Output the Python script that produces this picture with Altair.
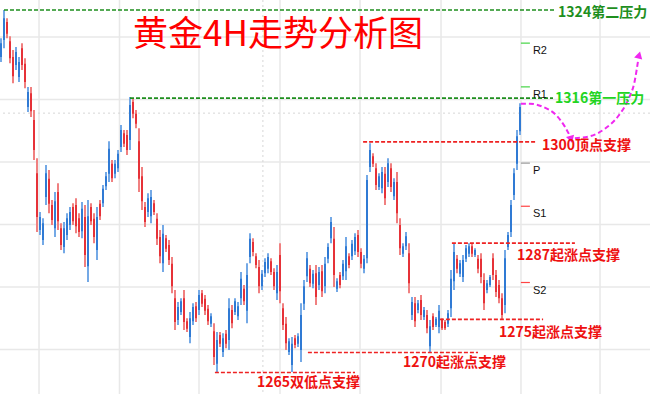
import altair as alt
import pandas as pd

# ---------------- candle data (4H gold) ----------------
opens = [
    1316.8, 1319.5, 1322.4, 1319.3, 1316.8, 1315.5, 1313.6, 1318.2, 1315.7, 1308.8,
    1311.0, 1306.7, 1298.2, 1289.1, 1287.5, 1294.4, 1297.3, 1293.1, 1289.4, 1295.2,
    1289.4, 1286.4, 1288.3, 1289.9, 1292.8, 1293.1, 1291.0, 1288.9, 1291.2, 1283.3,
    1292.8, 1290.9, 1285.9, 1293.3, 1293.4, 1296.1, 1298.1, 1299.7, 1298.1, 1299.0,
    1302.4, 1304.6, 1304.3, 1303.5, 1309.6, 1307.7, 1303.3, 1297.7, 1292.8, 1292.0,
    1291.3, 1293.4, 1290.9, 1288.0, 1283.8, 1287.8, 1286.7, 1283.7, 1278.2, 1274.7,
    1276.0, 1278.2, 1274.5, 1272.0, 1274.5, 1276.9, 1276.3, 1279.0, 1278.1, 1276.5,
    1274.1, 1272.9, 1267.7, 1272.3, 1269.6, 1272.5, 1271.5, 1276.3, 1276.0, 1275.3,
    1278.2, 1279.7, 1276.2, 1284.8, 1287.2, 1284.9, 1283.2, 1280.1, 1282.2, 1282.9,
    1284.1, 1282.4, 1279.0, 1285.1, 1276.6, 1274.1, 1269.6, 1267.5, 1271.8, 1270.9,
    1269.9, 1277.3, 1281.7, 1282.9, 1280.5, 1282.2, 1280.3, 1282.5, 1280.1, 1284.5,
    1287.8, 1287.7, 1279.7, 1281.9, 1281.7, 1282.5, 1284.9, 1284.9, 1285.7, 1288.3,
    1285.6, 1282.9, 1284.6, 1299.2, 1300.9, 1299.0, 1296.0, 1295.8, 1298.1, 1296.8,
    1299.0, 1294.5, 1296.8, 1289.9, 1285.3, 1286.5, 1285.4, 1275.5, 1277.4, 1276.3,
    1277.9, 1275.2, 1275.5, 1270.5, 1275.3, 1273.9, 1273.6, 1274.7, 1274.4, 1274.1,
    1276.6, 1280.9, 1284.5, 1282.1, 1281.6, 1284.5, 1285.3, 1286.5, 1285.1, 1284.5,
    1284.5, 1281.1, 1279.5, 1280.3, 1284.6, 1281.9, 1280.3, 1278.2, 1277.1, 1286.4,
    1288.8, 1294.7, 1299.7, 1304.9,
]
highs = [
    1319.8, 1324.3, 1323.0, 1320.1, 1317.9, 1318.4, 1316.8, 1319.0, 1316.6, 1312.0,
    1312.0, 1308.3, 1300.6, 1292.0, 1291.0, 1299.5, 1298.7, 1293.9, 1295.2, 1296.6,
    1290.2, 1290.4, 1291.8, 1292.8, 1293.4, 1294.2, 1291.8, 1293.6, 1293.1, 1293.9,
    1293.4, 1291.8, 1292.8, 1293.9, 1296.3, 1298.4, 1303.3, 1300.3, 1300.3, 1301.9,
    1305.9, 1305.1, 1305.1, 1310.4, 1310.2, 1308.3, 1305.4, 1299.2, 1293.6, 1295.0,
    1295.5, 1293.9, 1291.8, 1289.1, 1289.9, 1288.3, 1287.5, 1284.8, 1279.5, 1277.6,
    1278.2, 1279.5, 1275.0, 1276.0, 1277.4, 1277.6, 1279.5, 1279.5, 1278.7, 1277.1,
    1275.8, 1274.2, 1272.8, 1272.8, 1272.6, 1273.1, 1278.2, 1277.1, 1278.2, 1277.6,
    1282.4, 1280.3, 1283.8, 1288.6, 1287.8, 1285.4, 1284.3, 1282.7, 1284.6, 1285.4,
    1284.6, 1283.0, 1283.5, 1287.0, 1277.4, 1275.2, 1271.8, 1272.0, 1272.3, 1272.6,
    1277.4, 1281.1, 1285.6, 1283.5, 1282.7, 1283.5, 1283.2, 1283.5, 1284.8, 1287.0,
    1291.2, 1289.6, 1281.4, 1282.4, 1284.3, 1288.0, 1285.4, 1287.5, 1288.6, 1289.1,
    1286.2, 1285.1, 1297.9, 1303.0, 1301.4, 1299.8, 1298.2, 1299.2, 1299.2, 1300.6,
    1299.8, 1297.4, 1298.4, 1291.0, 1287.0, 1288.8, 1287.0, 1278.4, 1278.4, 1277.9,
    1278.7, 1276.8, 1276.3, 1274.7, 1275.8, 1275.2, 1277.1, 1275.0, 1274.7, 1276.3,
    1282.7, 1287.0, 1285.1, 1284.3, 1285.1, 1286.7, 1287.0, 1287.0, 1286.2, 1285.1,
    1285.4, 1282.2, 1281.1, 1281.9, 1285.4, 1282.7, 1281.1, 1279.0, 1285.9, 1288.8,
    1293.9, 1299.0, 1305.1, 1309.4,
]
lows = [
    1316.0, 1318.2, 1319.8, 1315.8, 1312.6, 1314.7, 1312.8, 1314.7, 1311.8, 1308.0,
    1307.2, 1300.3, 1288.8, 1288.3, 1286.7, 1293.1, 1291.8, 1289.9, 1288.0, 1289.1,
    1285.9, 1285.4, 1287.5, 1289.1, 1289.9, 1288.6, 1288.0, 1287.8, 1283.2, 1280.8,
    1289.9, 1287.0, 1284.3, 1290.7, 1292.8, 1295.5, 1296.8, 1296.8, 1297.4, 1298.4,
    1301.6, 1302.4, 1301.1, 1301.9, 1307.0, 1305.4, 1295.2, 1292.3, 1289.6, 1291.2,
    1290.2, 1291.5, 1286.7, 1283.8, 1282.4, 1285.6, 1283.5, 1279.0, 1273.1, 1273.9,
    1275.5, 1273.1, 1272.8, 1271.0, 1273.9, 1274.4, 1275.5, 1276.8, 1275.5, 1273.9,
    1273.6, 1267.5, 1266.4, 1270.4, 1268.8, 1270.2, 1269.9, 1273.4, 1275.5, 1274.7,
    1277.1, 1277.1, 1274.2, 1283.8, 1284.9, 1283.0, 1279.0, 1279.5, 1281.6, 1282.2,
    1281.9, 1279.5, 1277.9, 1277.4, 1273.1, 1269.9, 1269.1, 1266.4, 1270.2, 1270.4,
    1268.0, 1276.3, 1280.8, 1280.0, 1279.8, 1277.1, 1279.5, 1278.4, 1279.0, 1283.8,
    1287.0, 1280.0, 1279.2, 1279.8, 1281.1, 1281.1, 1283.0, 1284.3, 1285.1, 1284.8,
    1283.0, 1282.2, 1283.8, 1298.4, 1299.2, 1295.5, 1295.5, 1295.0, 1293.1, 1296.0,
    1295.2, 1293.9, 1290.2, 1285.1, 1284.8, 1285.9, 1279.0, 1274.7, 1273.6, 1275.8,
    1274.7, 1274.7, 1272.6, 1269.6, 1273.1, 1273.6, 1272.6, 1273.1, 1273.1, 1273.6,
    1275.2, 1279.5, 1282.2, 1281.6, 1280.8, 1284.0, 1284.8, 1284.8, 1284.8, 1282.2,
    1280.6, 1276.3, 1279.0, 1280.0, 1281.1, 1278.4, 1277.4, 1274.7, 1275.8, 1285.9,
    1288.0, 1293.9, 1298.7, 1304.3,
]
closes = [
    1319.0, 1323.0, 1320.5, 1316.6, 1313.7, 1317.6, 1316.0, 1315.5, 1312.8, 1311.2,
    1308.1, 1301.9, 1291.2, 1291.2, 1290.2, 1298.2, 1293.3, 1290.7, 1293.7, 1290.5,
    1286.7, 1289.4, 1291.0, 1292.0, 1290.5, 1289.7, 1288.8, 1292.5, 1285.1, 1291.3,
    1290.5, 1288.0, 1291.2, 1291.3, 1295.7, 1297.7, 1302.1, 1297.4, 1299.7, 1301.3,
    1305.1, 1302.9, 1301.9, 1309.1, 1307.7, 1306.1, 1297.3, 1293.7, 1290.4, 1294.2,
    1294.4, 1292.0, 1287.7, 1284.9, 1288.5, 1286.1, 1284.3, 1280.1, 1274.4, 1276.8,
    1277.7, 1274.4, 1273.3, 1275.0, 1276.8, 1275.0, 1278.7, 1277.3, 1276.2, 1274.5,
    1275.3, 1268.8, 1271.5, 1270.9, 1271.8, 1270.9, 1276.6, 1274.2, 1277.7, 1276.9,
    1281.3, 1277.7, 1281.9, 1287.7, 1285.6, 1283.5, 1280.1, 1282.1, 1284.0, 1284.8,
    1282.4, 1280.1, 1282.4, 1279.3, 1273.9, 1271.0, 1271.3, 1270.9, 1270.7, 1272.1,
    1275.5, 1280.1, 1284.6, 1280.6, 1282.1, 1278.4, 1282.4, 1279.3, 1283.7, 1286.4,
    1290.4, 1281.9, 1280.9, 1280.3, 1283.7, 1286.5, 1283.5, 1286.9, 1288.0, 1285.6,
    1283.7, 1284.5, 1297.1, 1301.9, 1299.7, 1296.3, 1297.7, 1298.4, 1294.2, 1299.8,
    1296.0, 1296.8, 1291.8, 1286.2, 1286.5, 1288.1, 1280.6, 1277.6, 1274.5, 1277.4,
    1275.5, 1276.3, 1273.4, 1273.7, 1273.6, 1274.9, 1276.2, 1273.4, 1273.4, 1275.8,
    1281.3, 1285.6, 1282.9, 1283.8, 1284.3, 1286.2, 1286.5, 1285.3, 1285.9, 1282.9,
    1281.6, 1277.4, 1280.6, 1281.6, 1281.9, 1279.2, 1278.2, 1275.5, 1284.6, 1288.3,
    1293.1, 1298.2, 1304.1, 1308.8,
]

# grid (price levels and time ticks)
grid_prices = [1270, 1280, 1290, 1300, 1310, 1320]
grid_times = [12.67, 39.5, 66.0, 93.0, 119.67, 146.67, 173.33, 199.67]
cross_price = [1307.8]
cross_time = [87.3]

# support / resistance levels
level_labels = ["1324第二压力", "1316第一压力", "1300顶点支撑", "1287起涨点支撑",
                "1275起涨点支撑", "1270起涨点支撑", "1265双低点支撑"]
level_prices = [1324.3, 1310.2, 1303.2, 1287.0, 1274.8, 1269.5, 1266.3]
level_from = [1.0, 43.0, 120.7, 150.3, 146.3, 102.3, 71.3]
level_to = [184.7, 184.0, 178.7, 191.3, 180.7, 159.0, 118.0]
label_t = [185.7, 184.7, 180.3, 172.0, 166.0, 134.0, 85.3]
label_p = [1323.8, 1310.1, 1302.5, 1285.0, 1272.7, 1267.8, 1264.6]

# pivot points
pivot_names = ["R2", "R1", "P", "S1", "S2"]
pivot_prices = [1319.0, 1312.0, 1299.8, 1292.9, 1280.7]
pivot_from = 173.3
pivot_to = 176.3

# projected path (magenta arrows)
arrow1_t = [173.3, 176.3, 180.7, 185.0, 188.0, 189.7]
arrow1_p = [1309.3, 1309.3, 1308.8, 1307.5, 1305.6, 1304.1]
arrow2_t = [191.3, 196.3, 201.3, 205.7, 209.0, 211.3, 212.3]
arrow2_p = [1303.8, 1304.1, 1305.3, 1307.3, 1309.9, 1313.1, 1316.0]
head_t = [190.0, 212.7]
head_p = [1303.6, 1317.1]
head_angle = [165, 15]

title_text = "黄金4H走势分析图"
title_t, title_p = 44.0, 1320.3

# ---------------- styles ----------------
UP_BODY, DOWN_BODY = "#1f6fd0", "#e41e26"
UP_WICK, DOWN_WICK = "#74a9e6", "#f08080"
level_line_colors = ["#1e8f1e", "#1e8f1e", "#ee2222", "#ee2222", "#ee2222", "#ee2222", "#ee2222"]
level_text_colors = ["#1e8f1e", "#22d422", "#ee1111", "#ee1111", "#ee1111", "#ee1111", "#ee1111"]
pivot_colors = ["#44d444", "#44d444", "#9a9a9a", "#ff4444", "#ff4444"]
MAGENTA = "#f028f0"
CJK = "Noto Sans CJK SC"

X = alt.Scale(domain=[-1 / 3, 649 / 3], nice=False, zero=False)
Y = alt.Scale(domain=[1262.86, 1325.9], nice=False, zero=False)

candles = pd.DataFrame({"t": range(len(closes)), "open": opens, "high": highs,
                        "low": lows, "close": closes})

gh = alt.Chart(pd.DataFrame({"p": grid_prices})).mark_rule(
    color="#e8e8e8", strokeWidth=1.5).encode(y=alt.Y("p:Q", scale=Y, axis=None))
gv = alt.Chart(pd.DataFrame({"t": grid_times})).mark_rule(
    color="#e8e8e8", strokeWidth=1.5).encode(x=alt.X("t:Q", scale=X, axis=None))
ch = alt.Chart(pd.DataFrame({"p": cross_price})).mark_rule(
    color="#d6d6d6", strokeWidth=1, strokeDash=[2, 3]).encode(y=alt.Y("p:Q", scale=Y, axis=None))
cv = alt.Chart(pd.DataFrame({"t": cross_time})).mark_rule(
    color="#d6d6d6", strokeWidth=1, strokeDash=[2, 3]).encode(x=alt.X("t:Q", scale=X, axis=None))

is_up = alt.datum.close >= alt.datum.open
wicks = alt.Chart(candles).mark_rule(strokeWidth=2).encode(
    x=alt.X("t:Q", scale=X, axis=None),
    y=alt.Y("low:Q", scale=Y, axis=None),
    y2="high:Q",
    color=alt.condition(is_up, alt.value(UP_WICK), alt.value(DOWN_WICK)),
)
bodies = alt.Chart(candles).mark_rule(strokeWidth=1.6).encode(
    x=alt.X("t:Q", scale=X, axis=None),
    y=alt.Y("open:Q", scale=Y, axis=None),
    y2="close:Q",
    color=alt.condition(is_up, alt.value(UP_BODY), alt.value(DOWN_BODY)),
)

levels = pd.DataFrame({"label": level_labels, "p": level_prices, "t0": level_from,
                       "t1": level_to, "lt": label_t, "lp": label_p,
                       "lc": level_line_colors, "tc": level_text_colors})
level_lines = alt.Chart(levels).mark_rule(strokeWidth=1.6, strokeDash=[4, 2]).encode(
    x=alt.X("t0:Q", scale=X, axis=None), x2="t1:Q",
    y=alt.Y("p:Q", scale=Y, axis=None),
    color=alt.Color("lc:N", scale=None),
)
level_text = alt.Chart(levels).mark_text(
    align="left", baseline="middle", font=CJK, fontSize=14, fontWeight="bold").encode(
    x=alt.X("lt:Q", scale=X, axis=None),
    y=alt.Y("lp:Q", scale=Y, axis=None),
    text="label:N",
    color=alt.Color("tc:N", scale=None),
)

pivots = pd.DataFrame({"name": pivot_names, "p": pivot_prices, "c": pivot_colors,
                       "t0": [pivot_from] * len(pivot_names), "t1": [pivot_to] * len(pivot_names)})
pivot_ticks = alt.Chart(pivots).mark_rule(strokeWidth=1.2).encode(
    x=alt.X("t0:Q", scale=X, axis=None), x2="t1:Q",
    y=alt.Y("p:Q", scale=Y, axis=None),
    color=alt.Color("c:N", scale=None),
)
pivot_text = alt.Chart(pivots).mark_text(
    align="left", baseline="top", dx=3, dy=2, font="Liberation Sans", fontSize=11,
    color="#111111").encode(
    x=alt.X("t1:Q", scale=X, axis=None),
    y=alt.Y("p:Q", scale=Y, axis=None),
    text="name:N",
)

arrows = pd.DataFrame({
    "t": arrow1_t + arrow2_t,
    "p": arrow1_p + arrow2_p,
    "seg": ["a"] * len(arrow1_t) + ["b"] * len(arrow2_t),
})
arrow_lines = alt.Chart(arrows).mark_line(
    color=MAGENTA, strokeWidth=2, strokeDash=[5, 3], interpolate="monotone").encode(
    x=alt.X("t:Q", scale=X, axis=None),
    y=alt.Y("p:Q", scale=Y, axis=None),
    detail="seg:N",
)
heads = alt.Chart(pd.DataFrame({"t": head_t, "p": head_p, "a": head_angle})).mark_point(
    shape="triangle-up", filled=True, size=70, color=MAGENTA, opacity=1).encode(
    x=alt.X("t:Q", scale=X, axis=None),
    y=alt.Y("p:Q", scale=Y, axis=None),
    angle=alt.Angle("a:Q", scale=None),
)

title = alt.Chart(pd.DataFrame({"t": [title_t], "p": [title_p], "s": [title_text]})).mark_text(
    align="left", baseline="middle", font=CJK, fontSize=35, color="#ff0000").encode(
    x=alt.X("t:Q", scale=X, axis=None),
    y=alt.Y("p:Q", scale=Y, axis=None),
    text="s:N",
)

chart = alt.layer(
    gh, gv, ch, cv, wicks, bodies, level_lines, pivot_ticks, pivot_text,
    arrow_lines, heads, level_text, title,
).properties(
    width=650, height=394, autosize=alt.AutoSizeParams(type="none"), padding=0,
    background="white",
).configure_view(stroke=None)

chart.save("out.html", embed_options={"renderer": "svg", "actions": False})
